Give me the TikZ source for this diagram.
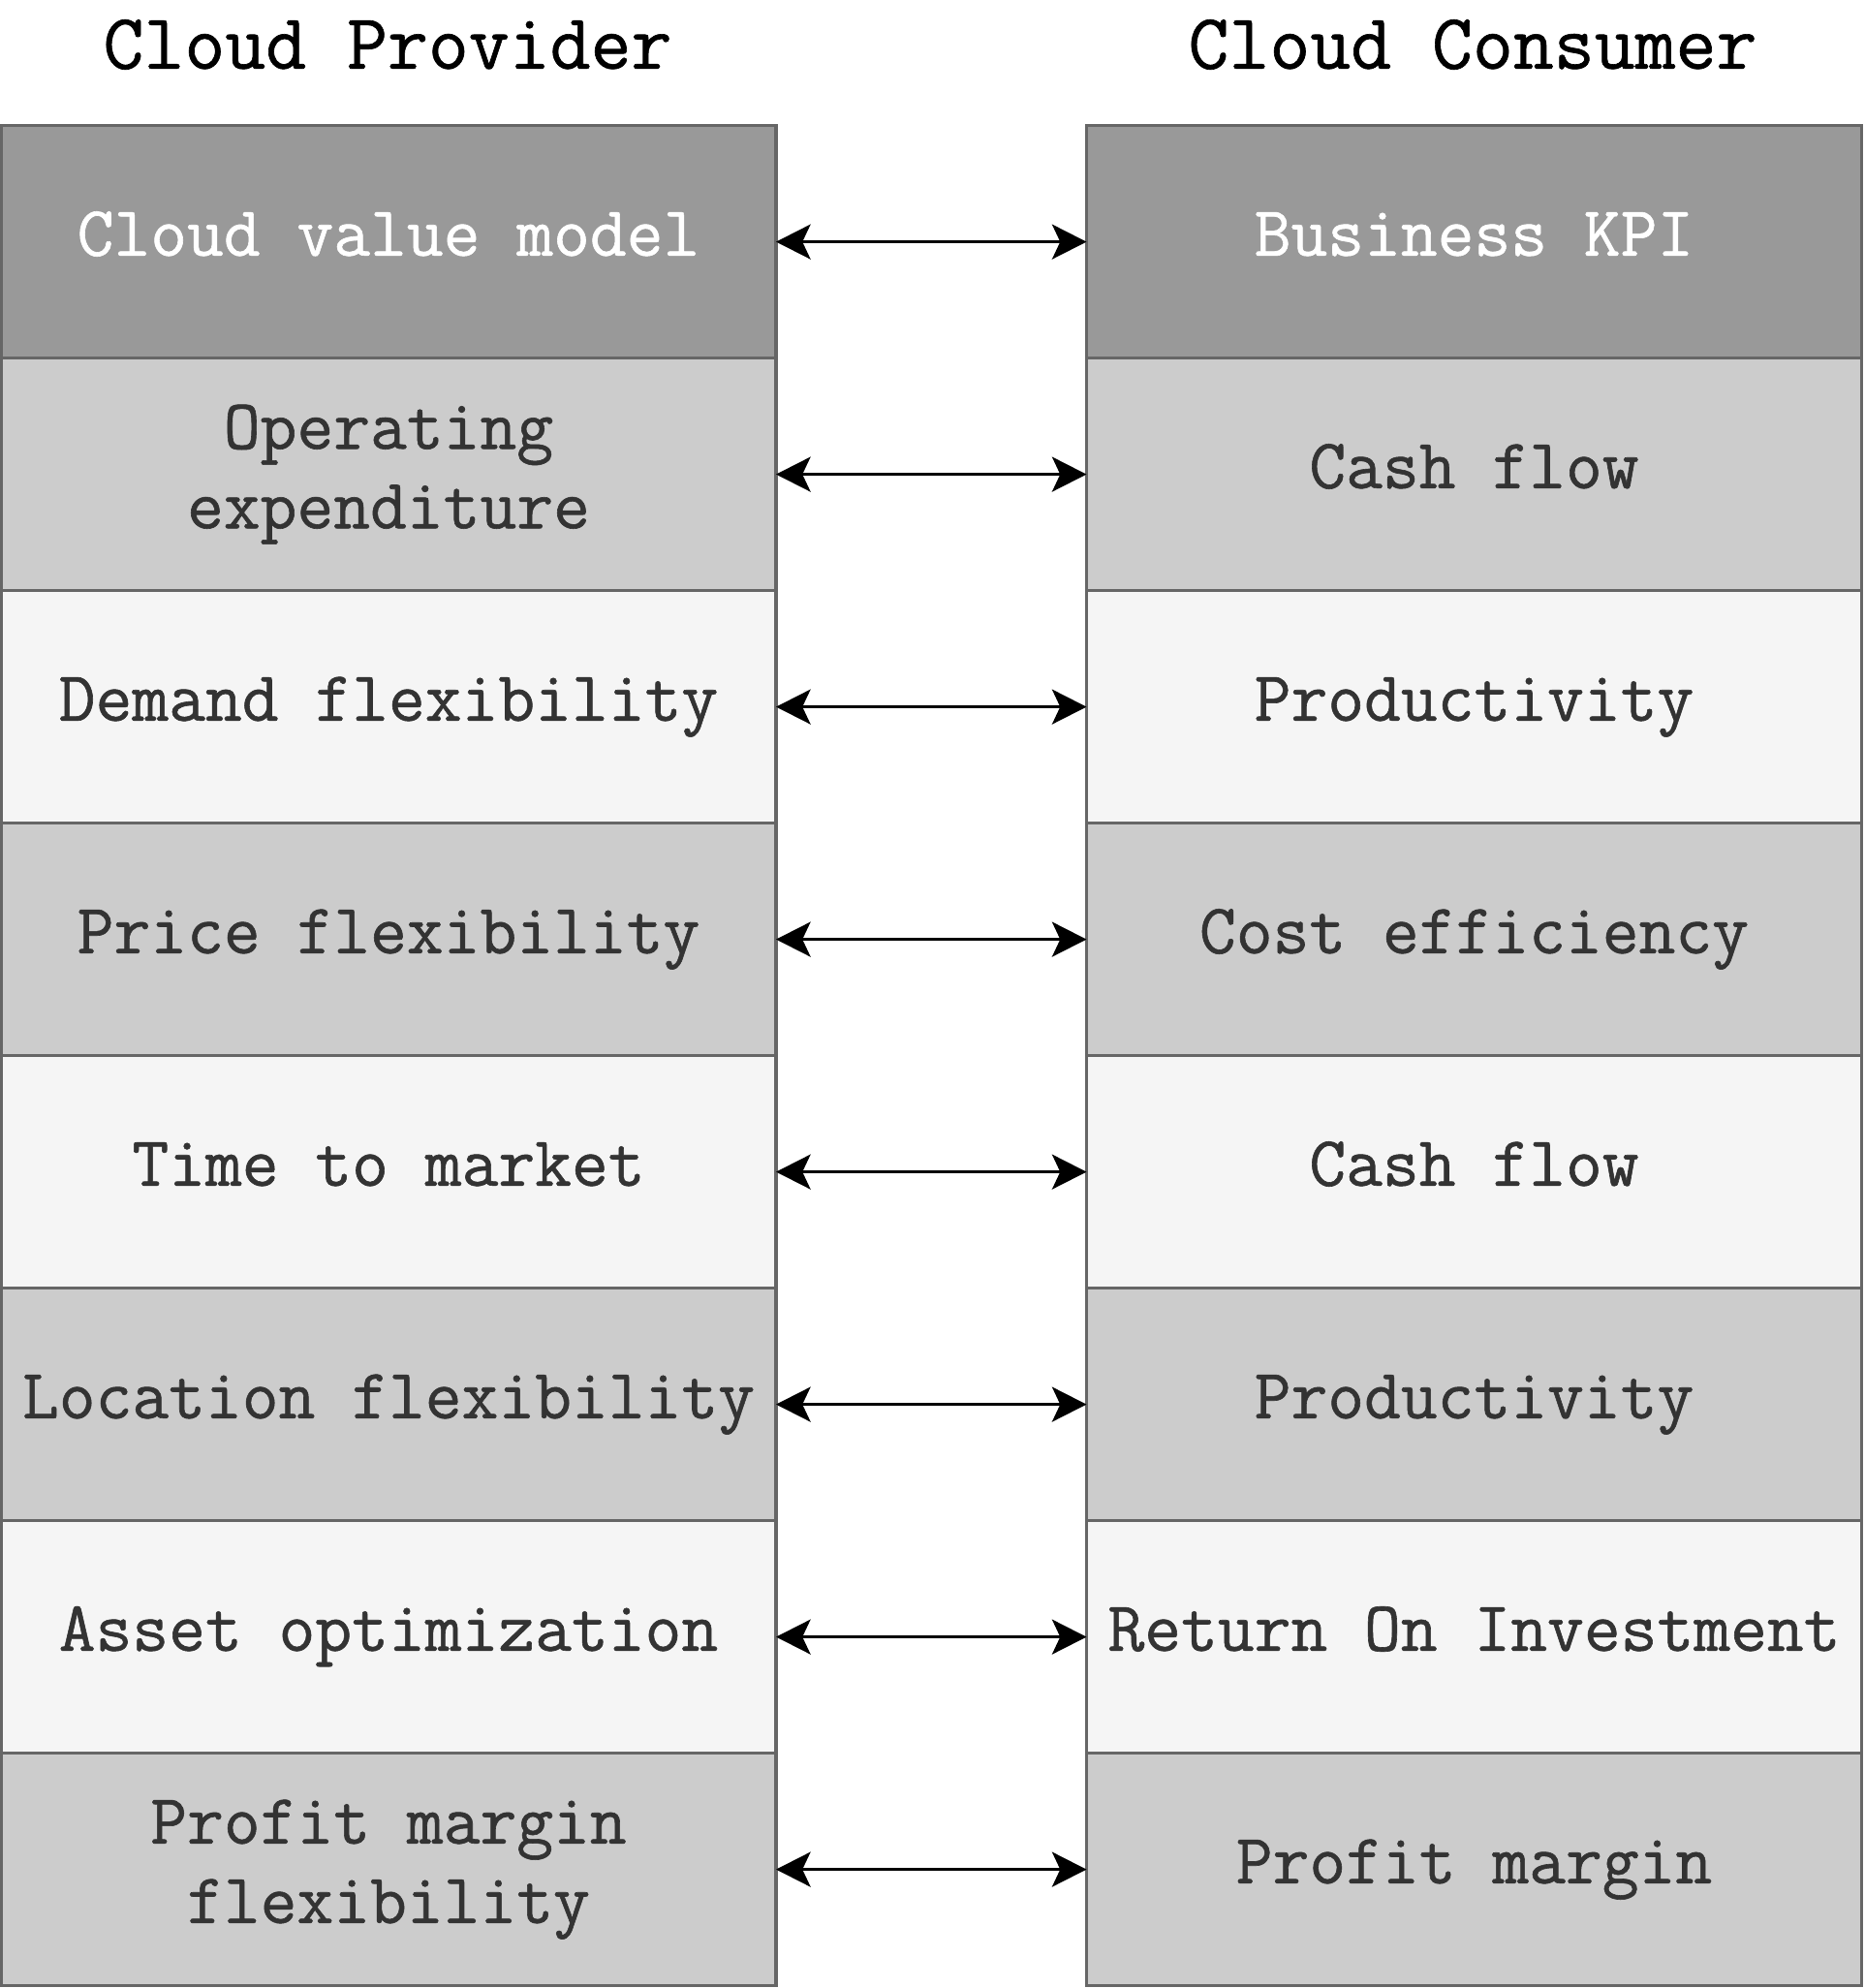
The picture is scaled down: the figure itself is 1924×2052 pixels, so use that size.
\documentclass[tikz,border=0pt]{standalone}
\usepackage{fontspec}
\setmonofont{Latin Modern Mono}[FakeBold=0.8]
\usetikzlibrary{arrows.meta}
\definecolor{headfill}{HTML}{999999}
\definecolor{midfill}{HTML}{CCCCCC}
\definecolor{lightfill}{HTML}{F5F5F5}
\definecolor{cellline}{HTML}{666666}
\definecolor{celltext}{HTML}{333333}
\begin{document}
\begin{tikzpicture}[x=0.5pt,y=-0.5pt,
  cell/.style={draw=cellline, line width=1.6pt, minimum width=400pt,
    minimum height=120pt, inner sep=0pt, outer sep=0pt,
    font=\ttfamily\fontsize{36.7}{41}\selectfont, text=celltext,
    text height=22.4pt, text depth=8.1pt},
  twoline/.style={text height=, text depth=, align=center},
  headcell/.style={cell, fill=headfill, text=white},
  midcell/.style={cell, fill=midfill},
  lightcell/.style={cell, fill=lightfill},
  title/.style={font=\ttfamily\fontsize{40.7}{45}\selectfont, text=black, inner sep=0pt},
  conn/.style={line width=1.35pt, black,
    {Stealth[length=17.8pt,width=18pt,inset=4.2pt]}-{Stealth[length=17.8pt,width=18pt,inset=4.2pt]}}]
\useasboundingbox (0,0) rectangle (1924,2052);

% column titles
\node[title] (tp) at (400,46) {Cloud Provider};
\node[title] (tc) at (1520,46) {Cloud Consumer};

% provider column
\node[headcell]  (l1) at (401,249.6)  {Cloud value model};
\node[midcell,twoline] (l2) at (401,489.6)  {Operating\\expenditure};
\node[lightcell] (l3) at (401,729.6)  {Demand flexibility};
\node[midcell]   (l4) at (401,969.6)  {Price flexibility};
\node[lightcell] (l5) at (401,1209.6) {Time to market};
\node[midcell]   (l6) at (401,1449.6) {Location flexibility};
\node[lightcell] (l7) at (401,1689.6) {Asset optimization};
\node[midcell,twoline] (l8) at (401,1929.6) {Profit margin\\flexibility};

% consumer column
\node[headcell]  (r1) at (1521.5,249.6)  {Business KPI};
\node[midcell]   (r2) at (1521.5,489.6)  {Cash flow};
\node[lightcell] (r3) at (1521.5,729.6)  {Productivity};
\node[midcell]   (r4) at (1521.5,969.6)  {Cost efficiency};
\node[lightcell] (r5) at (1521.5,1209.6) {Cash flow};
\node[midcell]   (r6) at (1521.5,1449.6) {Productivity};
\node[lightcell] (r7) at (1521.5,1689.6) {Return On Investment};
\node[midcell]   (r8) at (1521.5,1929.6) {Profit margin};

% two-way links between matching rows
\foreach \i in {1,...,8}
  \draw[conn] (l\i.east) -- (r\i.west);
\end{tikzpicture}
\end{document}
